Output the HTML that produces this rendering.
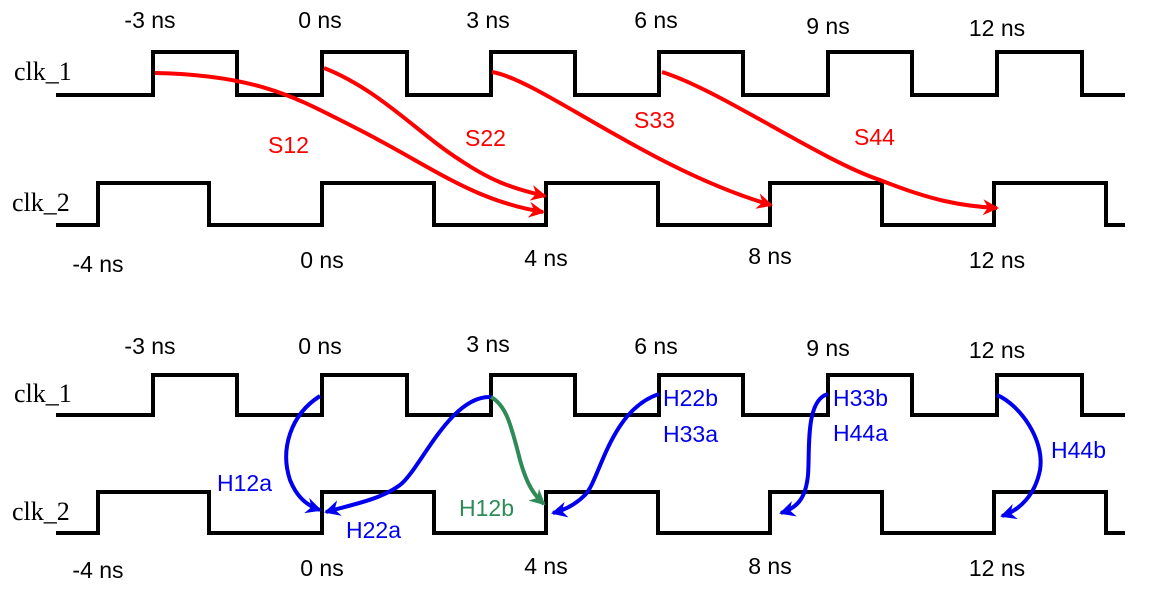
<!DOCTYPE html>
<html><head><style>body{margin:0;background:#fff}svg{display:block}</style></head><body>
<svg width="1154" height="597" viewBox="0 0 1154 597" xmlns="http://www.w3.org/2000/svg">
<defs>
<marker id="r" markerWidth="16" markerHeight="16" refX="14" refY="8" orient="auto" markerUnits="userSpaceOnUse" viewBox="0 0 16 16"><path d="M0,0 L16,8 L0,16 L5,8z" fill="#f00"/></marker>
<marker id="b" markerWidth="16" markerHeight="16" refX="14" refY="8" orient="auto" markerUnits="userSpaceOnUse" viewBox="0 0 16 16"><path d="M0,0 L16,8 L0,16 L5,8z" fill="#0000ee"/></marker>
<marker id="g" markerWidth="16" markerHeight="16" refX="14" refY="8" orient="auto" markerUnits="userSpaceOnUse" viewBox="0 0 16 16"><path d="M0,0 L16,8 L0,16 L5,8z" fill="#2e8b57"/></marker>
</defs>
<g fill="none" stroke="#000" stroke-width="4">
<path d="M56,95 H153 V52 H237 V95 H322 V52 H407 V95 H491 V52 H575 V95 H659 V52 H743 V95 H828 V52 H912 V95 H997 V52 H1082 V95 H1125"/>
<path d="M56,225 H98 V183 H209 V225 H322 V183 H434 V225 H546 V183 H658 V225 H770 V183 H882 V225 H994 V183 H1106 V225 H1125"/>
<path d="M56,415 H153 V375 H237 V415 H322 V375 H407 V415 H491 V375 H575 V415 H659 V375 H743 V415 H828 V375 H912 V415 H997 V375 H1082 V415 H1125"/>
<path d="M56,533 H98 V492 H209 V533 H322 V492 H434 V533 H546 V492 H658 V533 H770 V492 H882 V533 H994 V492 H1106 V533 H1125"/>
</g>
<g font-family="Liberation Serif, serif" font-size="26" fill="#000">
<text x="14" y="80">clk_1</text><text x="12" y="211">clk_2</text>
<text x="14" y="402">clk_1</text><text x="12" y="520">clk_2</text>
</g>
<g font-family="Liberation Sans, sans-serif" font-size="23" fill="#000" text-anchor="middle">
<text x="150" y="28">-3 ns</text><text x="320" y="28">0 ns</text><text x="488" y="28">3 ns</text><text x="656" y="28">6 ns</text><text x="828" y="34">9 ns</text><text x="997" y="36">12 ns</text>
<text x="98" y="272">-4 ns</text><text x="322" y="268">0 ns</text><text x="546" y="266">4 ns</text><text x="770" y="264">8 ns</text><text x="997" y="268">12 ns</text>
<text x="150" y="354">-3 ns</text><text x="320" y="354">0 ns</text><text x="488" y="352">3 ns</text><text x="656" y="354">6 ns</text><text x="828" y="356">9 ns</text><text x="997" y="358">12 ns</text>
<text x="98" y="578">-4 ns</text><text x="322" y="576">0 ns</text><text x="546" y="574">4 ns</text><text x="770" y="574">8 ns</text><text x="997" y="576">12 ns</text>
</g>
<g fill="none" stroke="#f00" stroke-width="4">
<path d="M155,73 C260,75 300,100 350,125 C430,165 470,200 543,212" marker-end="url(#r)"/>
<path d="M324,68 C380,90 420,135 460,160 C490,180 510,188 545,196" marker-end="url(#r)"/>
<path d="M492,72 C540,80 650,170 771,205" marker-end="url(#r)"/>
<path d="M662,72 C720,90 820,160 880,180 C930,200 960,206 997,208" marker-end="url(#r)"/>
</g>
<g font-family="Liberation Sans, sans-serif" font-size="23" fill="#f00">
<text x="268" y="153">S12</text><text x="465" y="146">S22</text><text x="634" y="128">S33</text><text x="854" y="145">S44</text>
</g>
<g fill="none" stroke="#0000ee" stroke-width="4">
<path d="M320,396 C290,415 280,450 290,480 C296,495 305,505 320,510" marker-end="url(#b)"/>
<path d="M491,397 C450,395 420,470 400,485 C380,500 350,505 326,512" marker-end="url(#b)"/>
<path d="M659,394 C610,410 600,480 585,495 C575,505 565,510 553,513" marker-end="url(#b)"/>
<path d="M828,394 C805,400 810,450 808,475 C806,495 800,507 781,513" marker-end="url(#b)"/>
<path d="M997,395 C1020,405 1045,440 1040,470 C1035,495 1020,510 1002,516" marker-end="url(#b)"/>
</g>
<path d="M491,397 C505,405 510,420 520,460 C527,485 534,495 544,504" fill="none" stroke="#2e8b57" stroke-width="4" marker-end="url(#g)"/>
<g font-family="Liberation Sans, sans-serif" font-size="23" fill="#0000ee">
<text x="217" y="491">H12a</text><text x="346" y="538">H22a</text>
<text x="663" y="406">H22b</text><text x="663" y="442">H33a</text>
<text x="833" y="406">H33b</text><text x="833" y="441">H44a</text>
<text x="1051" y="458">H44b</text>
</g>
<text x="459" y="516" font-family="Liberation Sans, sans-serif" font-size="23" fill="#2e8b57">H12b</text>
</svg>
</body></html>
